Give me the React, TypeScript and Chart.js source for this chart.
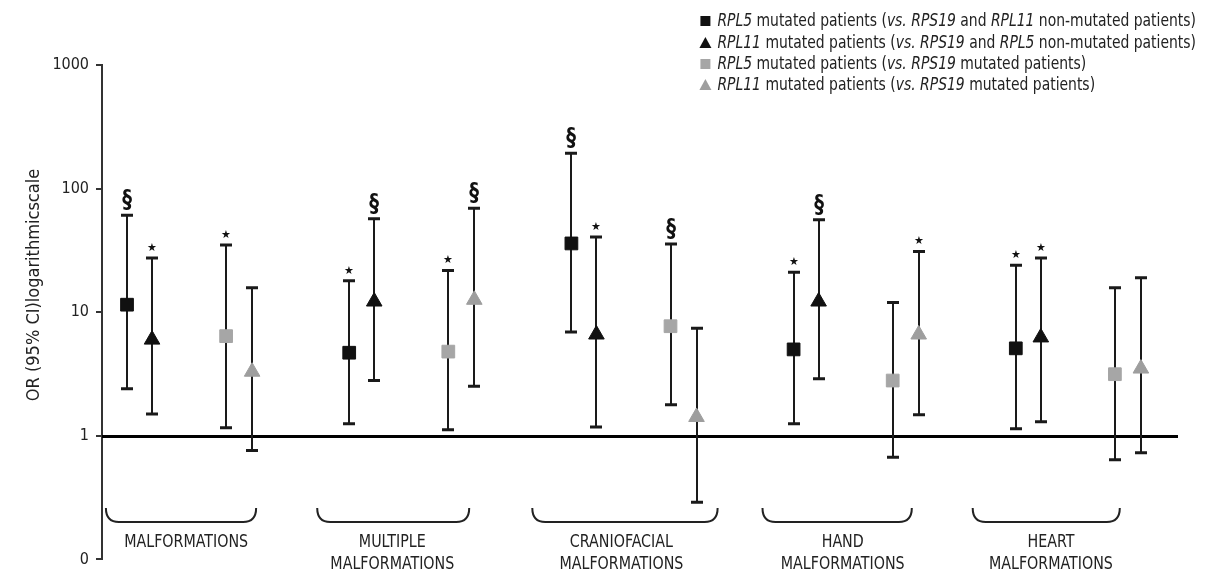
import React, { useEffect, useRef } from "react";
import { Chart, registerables } from "chart.js";

Chart.register(...registerables);

// ---------- DATA ----------
const categories: string[][] = [
  ["MALFORMATIONS"],
  ["MULTIPLE", "MALFORMATIONS"],
  ["CRANIOFACIAL", "MALFORMATIONS"],
  ["HAND", "MALFORMATIONS"],
  ["HEART", "MALFORMATIONS"],
];

const yTickValues = [0.1, 1, 10, 100, 1000];
const yTickLabels = ["0", "1", "10", "100", "1000"];
const yTitle = "OR (95% CI)logarithmicscale";

// RPL5 mutated vs RPS19 and RPL11 non-mutated
const rpl5Or = [11.5, 4.7, 36, 5.0, 5.1];
const rpl5Lo = [2.4, 1.25, 6.9, 1.25, 1.14];
const rpl5Hi = [61, 18, 193, 21, 24];
const rpl5Sig = ["§", "*", "§", "*", "*"];

// RPL11 mutated vs RPS19 and RPL5 non-mutated
const rpl11Or = [6.0, 12.2, 6.6, 12.2, 6.25];
const rpl11Lo = [1.5, 2.8, 1.18, 2.9, 1.3];
const rpl11Hi = [27.5, 57, 40.6, 56, 27.5];
const rpl11Sig = ["*", "§", "*", "§", "*"];

// RPL5 mutated vs RPS19 mutated
const rpl5VsRps19Or = [6.4, 4.8, 7.7, 2.8, 3.15];
const rpl5VsRps19Lo = [1.16, 1.12, 1.78, 0.67, 0.64];
const rpl5VsRps19Hi = [35, 21.7, 35.7, 12, 15.8];
const rpl5VsRps19Sig = ["*", "*", "§", "", ""];

// RPL11 mutated vs RPS19 mutated
const rpl11VsRps19Or = [3.3, 12.6, 1.42, 6.6, 3.5];
const rpl11VsRps19Lo = [0.76, 2.52, 0.29, 1.48, 0.73];
const rpl11VsRps19Hi = [15.8, 69.5, 7.4, 31, 19];
const rpl11VsRps19Sig = ["", "§", "", "*", ""];

// legend labels: [text, italic]
const legendRpl5: [string, boolean][] = [
  ["RPL5", true], [" mutated patients (", false], ["vs. RPS19", true], [" and ", false], ["RPL11", true], [" non-mutated patients)", false],
];
const legendRpl11: [string, boolean][] = [
  ["RPL11", true], [" mutated patients (", false], ["vs. RPS19", true], [" and ", false], ["RPL5", true], [" non-mutated patients)", false],
];
const legendRpl5VsRps19: [string, boolean][] = [
  ["RPL5", true], [" mutated patients (", false], ["vs. RPS19", true], [" mutated patients)", false],
];
const legendRpl11VsRps19: [string, boolean][] = [
  ["RPL11", true], [" mutated patients (", false], ["vs. RPS19", true], [" mutated patients)", false],
];

// ---------- LAYOUT / STYLE ----------
const FONT = '"DejaVu Sans Condensed", "Liberation Sans", sans-serif';
const SERIES_OFFSETS = [0, 0.1126, 0.446, 0.563];
const BRACKET_SPANS: [number, number][] = [
  [-0.095, 0.581],
  [-0.144, 0.54],
  [-0.176, 0.658],
  [-0.14, 0.532],
  [-0.194, 0.468],
];
const LABEL_CENTERS = [0.266, 0.194, 0.225, 0.221, 0.158];
const BLACK = "#111111";
const GRAY_SQ = "#a6a6a6";
const GRAY_TRI = "#9e9e9e";
const TEXT = "#222222";

const series = [
  { or: rpl5Or, lo: rpl5Lo, hi: rpl5Hi, sig: rpl5Sig, legend: legendRpl5, style: "rect", color: BLACK },
  { or: rpl11Or, lo: rpl11Lo, hi: rpl11Hi, sig: rpl11Sig, legend: legendRpl11, style: "triangle", color: BLACK },
  { or: rpl5VsRps19Or, lo: rpl5VsRps19Lo, hi: rpl5VsRps19Hi, sig: rpl5VsRps19Sig, legend: legendRpl5VsRps19, style: "rect", color: GRAY_SQ },
  { or: rpl11VsRps19Or, lo: rpl11VsRps19Lo, hi: rpl11VsRps19Hi, sig: rpl11VsRps19Sig, legend: legendRpl11VsRps19, style: "triangle", color: GRAY_TRI },
];

// draw text horizontally condensed by factor sx
function condensedText(ctx: CanvasRenderingContext2D, t: string, x: number, y: number, sx: number) {
  ctx.save();
  ctx.translate(x, y);
  ctx.scale(sx, 1);
  ctx.fillText(t, 0, 0);
  ctx.restore();
}

const errorBarPlugin = {
  id: "errorBars",
  beforeDatasetsDraw(chart: any) {
    const { ctx, chartArea } = chart;
    const xs = chart.scales.x;
    const ys = chart.scales.y;
    ctx.save();
    // reference line at OR = 1
    const y1 = Math.round(ys.getPixelForValue(1)) + 0.5;
    ctx.strokeStyle = "#000";
    ctx.lineWidth = 3;
    ctx.beginPath();
    ctx.moveTo(chartArea.left, y1);
    ctx.lineTo(chartArea.right, y1);
    ctx.stroke();

    series.forEach((s, si) => {
      s.or.forEach((_, i) => {
        const x = Math.round(xs.getPixelForValue(i + SERIES_OFFSETS[si]));
        const yl = ys.getPixelForValue(s.lo[i]);
        const yh = ys.getPixelForValue(s.hi[i]);
        ctx.strokeStyle = "#1a1a1a";
        ctx.lineWidth = 2;
        ctx.beginPath();
        ctx.moveTo(x, yl);
        ctx.lineTo(x, yh);
        ctx.stroke();
        ctx.lineWidth = 3;
        ctx.beginPath();
        ctx.moveTo(x - 6, yl);
        ctx.lineTo(x + 6, yl);
        ctx.moveTo(x - 6, yh);
        ctx.lineTo(x + 6, yh);
        ctx.stroke();
        const mark = s.sig[i];
        ctx.fillStyle = "#111";
        ctx.textAlign = "center";
        if (mark === "§") {
          ctx.font = `bold 24px ${FONT}`;
          ctx.textBaseline = "alphabetic";
          condensedText(ctx, "§", x, yh - 8, 0.9);
        } else if (mark === "*") {
          ctx.font = `11px "DejaVu Sans", sans-serif`;
          ctx.textBaseline = "middle";
          ctx.fillText("★", x, yh - 10);
        }
      });
    });
    ctx.restore();
  },
  afterDraw(chart: any) {
    const { ctx } = chart;
    const xs = chart.scales.x;
    ctx.save();
    // brackets and category labels
    categories.forEach((lines, i) => {
      const xl = xs.getPixelForValue(i + BRACKET_SPANS[i][0]);
      const xr = xs.getPixelForValue(i + BRACKET_SPANS[i][1]);
      const yt = 508;
      const yb = 522;
      const r = 13;
      ctx.strokeStyle = "#222";
      ctx.lineWidth = 2;
      ctx.beginPath();
      ctx.moveTo(xl, yt);
      ctx.quadraticCurveTo(xl, yb, xl + r, yb);
      ctx.lineTo(xr - r, yb);
      ctx.quadraticCurveTo(xr, yb, xr, yt);
      ctx.stroke();
      ctx.fillStyle = TEXT;
      ctx.font = `18px ${FONT}`;
      ctx.textAlign = "center";
      ctx.textBaseline = "middle";
      const cx = xs.getPixelForValue(i + LABEL_CENTERS[i]);
      lines.forEach((t, li) => condensedText(ctx, t, cx, 542 + li * 22, 0.88));
    });

    // y axis title
    ctx.save();
    ctx.translate(34, 285);
    ctx.rotate(-Math.PI / 2);
    ctx.font = `18px ${FONT}`;
    ctx.fillStyle = TEXT;
    ctx.textAlign = "center";
    ctx.textBaseline = "middle";
    ctx.fillText(yTitle, 0, 0);
    ctx.restore();

    // legend
    const SX = 0.86;
    const segFont = (it: boolean) => `${it ? "italic " : ""}18px ${FONT}`;
    const widthOf = (segs: [string, boolean][]) =>
      segs.reduce((w, [t, it]) => {
        ctx.font = segFont(it);
        return w + ctx.measureText(t).width * SX;
      }, 0);
    const textLeft = 1196 - widthOf(series[0].legend);
    const rowsY = [21, 43, 64, 85];
    series.forEach((s, si) => {
      const y = rowsY[si];
      const mx = textLeft - 12;
      ctx.fillStyle = s.color;
      ctx.beginPath();
      if (s.style === "rect") {
        ctx.rect(mx - 5, y - 5, 10, 10);
      } else {
        ctx.moveTo(mx, y - 6);
        ctx.lineTo(mx + 6, y + 5);
        ctx.lineTo(mx - 6, y + 5);
        ctx.closePath();
      }
      ctx.fill();
      let x = textLeft;
      ctx.fillStyle = TEXT;
      ctx.textAlign = "left";
      ctx.textBaseline = "middle";
      s.legend.forEach(([t, it]) => {
        ctx.font = segFont(it);
        condensedText(ctx, t, x, y, SX);
        x += ctx.measureText(t).width * SX;
      });
    });
    ctx.restore();
  },
};

export default function App() {
  const canvasRef = useRef<HTMLCanvasElement | null>(null);

  useEffect(() => {
    document.body.style.margin = "0";
    const canvas = canvasRef.current;
    if (!canvas) return;
    const datasets = series.map((s, si) => ({
      label: s.legend.map((p) => p[0]).join(""),
      data: s.or.map((v, i) => ({ x: i + SERIES_OFFSETS[si], y: v })),
      pointStyle: s.style,
      pointRadius: 9,
      pointHoverRadius: 9,
      backgroundColor: s.color,
      borderColor: s.color,
      borderWidth: 1,
      showLine: false,
    }));
    const chart = new Chart(canvas, {
      type: "scatter",
      data: { datasets },
      options: {
        animation: false,
        responsive: true,
        maintainAspectRatio: false,
        layout: { padding: { top: 65, right: 33, bottom: 16, left: 0 } },
        plugins: { legend: { display: false }, tooltip: { enabled: false } },
        scales: {
          x: { type: "linear", min: -0.1126, max: 4.73, display: false },
          y: {
            type: "logarithmic",
            min: 0.1,
            max: 1000,
            afterBuildTicks: (s: any) => {
              s.ticks = yTickValues.map((v) => ({ value: v }));
            },
            afterFit: (s: any) => {
              s.width = 102;
            },
            ticks: {
              autoSkip: false,
              padding: 7,
              color: TEXT,
              font: { family: FONT, size: 16 },
              callback: (v: any) => {
                const i = yTickValues.indexOf(Number(v));
                return i >= 0 ? yTickLabels[i] : "";
              },
            },
            grid: { drawOnChartArea: false, drawTicks: true, tickLength: 6, color: "#333", lineWidth: 2 },
            border: { display: true, color: "#333", width: 2 },
          },
        },
      },
      plugins: [errorBarPlugin],
    } as any);
    return () => chart.destroy();
  }, []);

  return (
    <div style={{ position: "relative", width: 1211, height: 576 }}>
      <canvas ref={canvasRef} />
    </div>
  );
}
